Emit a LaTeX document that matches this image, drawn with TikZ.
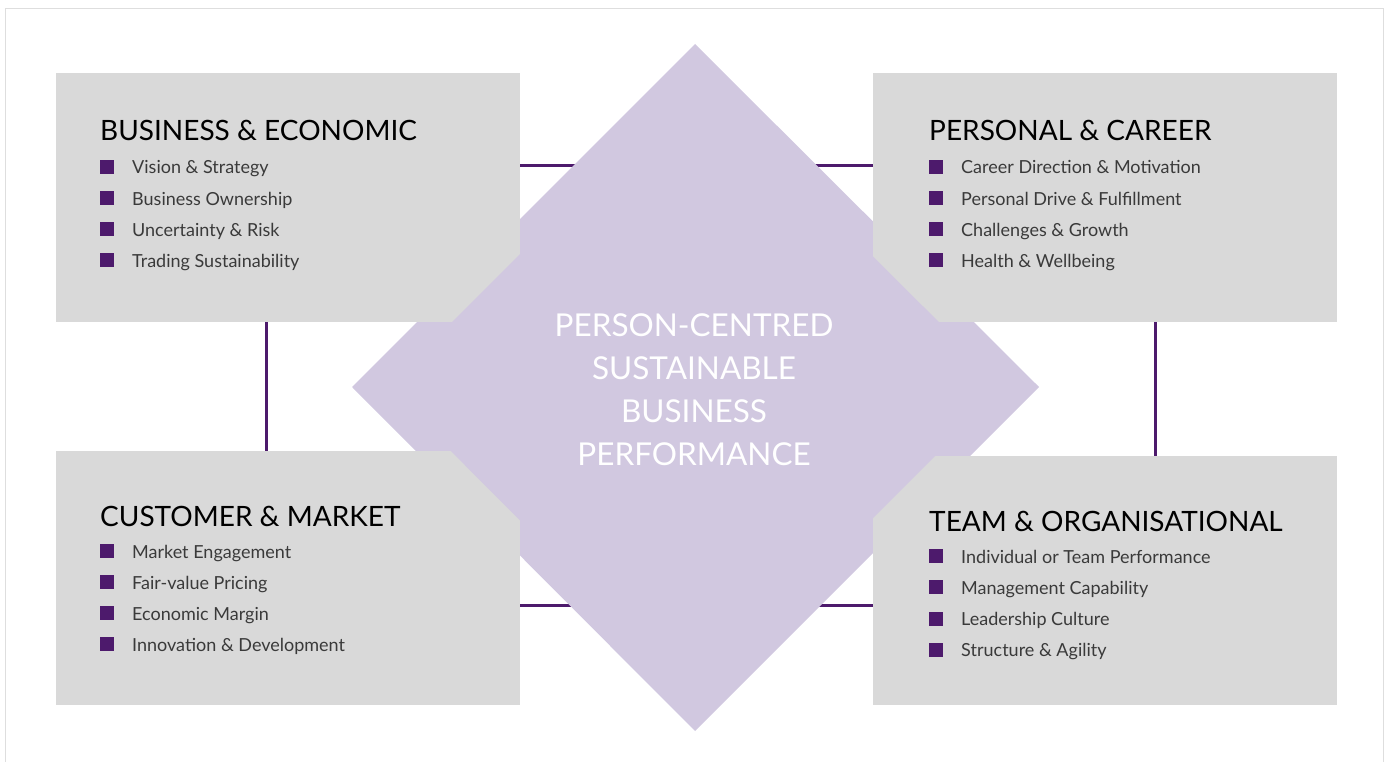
\documentclass[tikz,border=0pt]{standalone}
\usepackage{fontspec}
\setmainfont{Lato}
\usetikzlibrary{positioning}
\definecolor{boxgrey}{HTML}{D9D9D9}
\definecolor{lilac}{HTML}{D1C8E0}
\definecolor{plum}{HTML}{4D1A6C}
\definecolor{itemgrey}{HTML}{3A3A3A}
\definecolor{framegrey}{HTML}{DEDEDE}
\newcommand{\sqbullet}{{\color{plum}\rule{14pt}{14pt}}\hspace{18pt}}

\begin{document}
\begin{tikzpicture}[x=1pt,y=-1pt,
  panel/.style={fill=boxgrey,inner sep=0pt,minimum width=464pt,anchor=north west},
  heading/.style={anchor=base west,inner sep=0pt,font=\fontsize{28}{32}\selectfont,text=black},
  item/.style={anchor=base west,inner sep=0pt,font=\fontsize{18}{22}\selectfont,text=itemgrey},
  frameline/.style={draw=plum,line width=3pt}]
\useasboundingbox (0,0) rectangle (1386,762);
\draw[framegrey] (5.5,762)--(5.5,8.5)--(1383.5,8.5)--(1383.5,762);
\draw[frameline] (266,166) rectangle (1155,605);
\fill[lilac] (695,44)--(1039,387)--(695,731)--(352,387)--cycle;

\node[panel,minimum height=249pt] (tl) at (56,73) {};
\node[panel,minimum height=249pt] (tr) at (873,73) {};
\node[panel,minimum height=254pt] (bl) at (56,451) {};
\node[panel,minimum height=249pt] (br) at (873,456) {};

\fill[lilac] (695,79)--(1004,387)--(695,696)--(387,387)--cycle;

\node[heading] (business) at (100,141) {BUSINESS \& ECONOMIC};
\foreach \t [count=\i] in {Vision \& Strategy, Business Ownership, Uncertainty \& Risk, Trading Sustainability}
  \node[item] (business\i) at (100,{174+31*(\i-1)}) {\sqbullet\t};

\node[heading] (personal) at (929,141) {PERSONAL \& CAREER};
\foreach \t [count=\i] in {Career Direction \& Motivation, Personal Drive \& Fulfillment, Challenges \& Growth, Health \& Wellbeing}
  \node[item] (personal\i) at (929,{174+31*(\i-1)}) {\sqbullet\t};

\node[heading] (customer) at (100,526) {CUSTOMER \& MARKET};
\foreach \t [count=\i] in {Market Engagement, Fair-value Pricing, Economic Margin, Innovation \& Development}
  \node[item] (customer\i) at (100,{558+31*(\i-1)}) {\sqbullet\t};

\node[heading] (team) at (929,531) {TEAM \& ORGANISATIONAL};
\foreach \t [count=\i] in {Individual or Team Performance, Management Capability, Leadership Culture, Structure \& Agility}
  \node[item] (team\i) at (929,{563+31.3*(\i-1)}) {\sqbullet\t};

\node[align=center,text=white,font=\fontsize{31.5}{43}\selectfont] (core) at (694,390)
  {PERSON-CENTRED\\SUSTAINABLE\\BUSINESS\\PERFORMANCE};
\end{tikzpicture}
\end{document}
